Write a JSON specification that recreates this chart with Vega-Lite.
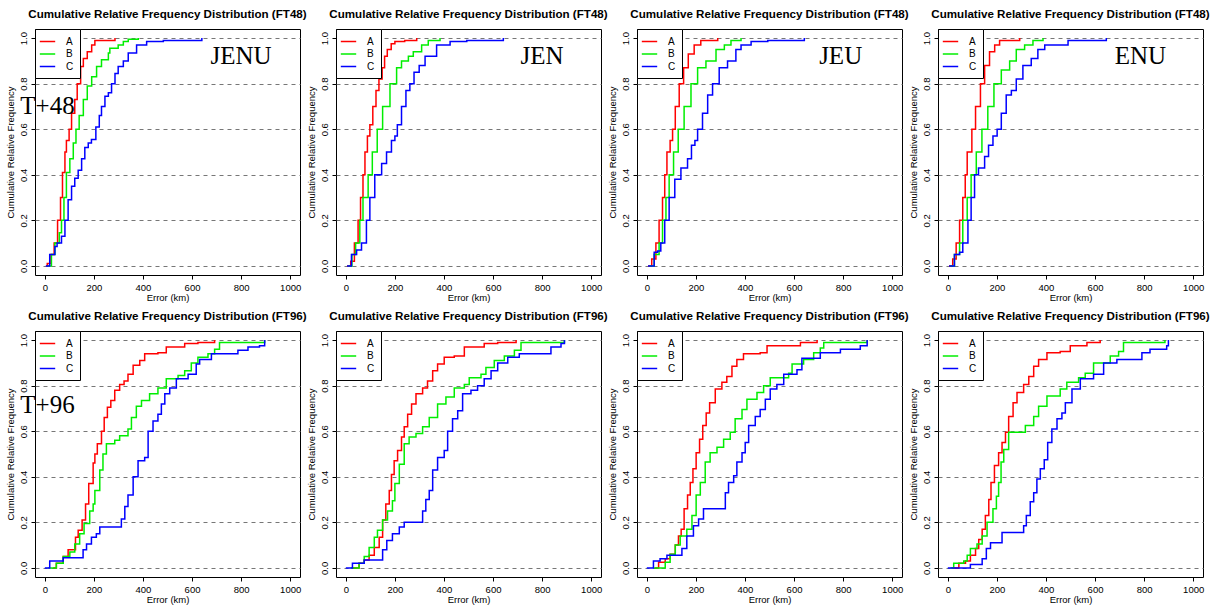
{
"$schema": "https://vega.github.io/schema/vega-lite/v6.json",
"padding": {"left": 4, "top": 8, "right": 0, "bottom": 0},
"background": "white",
"datasets": {
"labels": [
{"p":1,"t":"JENU","x":800,"y":0.92},{"p":2,"t":"JEN","x":800,"y":0.92},{"p":3,"t":"JEU","x":790,"y":0.92},{"p":4,"t":"ENU","x":785,"y":0.92},
{"p":1,"t":"T+48","x":11,"y":0.70},{"p":5,"t":"T+96","x":11,"y":0.716}
],
"curves": [
{"p":1,"s":"A","x":5,"y":0},{"p":1,"s":"A","x":10,"y":0.01},{"p":1,"s":"A","x":25,"y":0.05},{"p":1,"s":"A","x":38,"y":0.1},{"p":1,"s":"A","x":52,"y":0.2},{"p":1,"s":"A","x":64,"y":0.3},{"p":1,"s":"A","x":72,"y":0.41},{"p":1,"s":"A","x":82,"y":0.5},{"p":1,"s":"A","x":88,"y":0.55},{"p":1,"s":"A","x":99,"y":0.6},{"p":1,"s":"A","x":109,"y":0.67},{"p":1,"s":"A","x":122,"y":0.73},{"p":1,"s":"A","x":132,"y":0.8},{"p":1,"s":"A","x":146,"y":0.875},{"p":1,"s":"A","x":157,"y":0.91},{"p":1,"s":"A","x":173,"y":0.94},{"p":1,"s":"A","x":191,"y":0.97},{"p":1,"s":"A","x":204,"y":0.99},{"p":1,"s":"A","x":286,"y":1.0},
{"p":1,"s":"B","x":10,"y":0},{"p":1,"s":"B","x":27,"y":0.05},{"p":1,"s":"B","x":41,"y":0.1},{"p":1,"s":"B","x":59,"y":0.145},{"p":1,"s":"B","x":68,"y":0.2},{"p":1,"s":"B","x":78,"y":0.3},{"p":1,"s":"B","x":88,"y":0.41},{"p":1,"s":"B","x":102,"y":0.47},{"p":1,"s":"B","x":116,"y":0.54},{"p":1,"s":"B","x":127,"y":0.6},{"p":1,"s":"B","x":140,"y":0.66},{"p":1,"s":"B","x":157,"y":0.73},{"p":1,"s":"B","x":173,"y":0.79},{"p":1,"s":"B","x":191,"y":0.83},{"p":1,"s":"B","x":211,"y":0.875},{"p":1,"s":"B","x":231,"y":0.905},{"p":1,"s":"B","x":259,"y":0.935},{"p":1,"s":"B","x":265,"y":0.955},{"p":1,"s":"B","x":299,"y":0.97},{"p":1,"s":"B","x":320,"y":0.985},{"p":1,"s":"B","x":340,"y":0.995},{"p":1,"s":"B","x":381,"y":1.0},
{"p":1,"s":"C","x":4,"y":0},{"p":1,"s":"C","x":20,"y":0.05},{"p":1,"s":"C","x":41,"y":0.085},{"p":1,"s":"C","x":50,"y":0.1},{"p":1,"s":"C","x":68,"y":0.13},{"p":1,"s":"C","x":82,"y":0.2},{"p":1,"s":"C","x":95,"y":0.29},{"p":1,"s":"C","x":109,"y":0.35},{"p":1,"s":"C","x":122,"y":0.385},{"p":1,"s":"C","x":136,"y":0.42},{"p":1,"s":"C","x":150,"y":0.47},{"p":1,"s":"C","x":163,"y":0.52},{"p":1,"s":"C","x":177,"y":0.54},{"p":1,"s":"C","x":190,"y":0.555},{"p":1,"s":"C","x":208,"y":0.61},{"p":1,"s":"C","x":222,"y":0.66},{"p":1,"s":"C","x":231,"y":0.7},{"p":1,"s":"C","x":245,"y":0.745},{"p":1,"s":"C","x":259,"y":0.76},{"p":1,"s":"C","x":272,"y":0.8},{"p":1,"s":"C","x":286,"y":0.845},{"p":1,"s":"C","x":299,"y":0.875},{"p":1,"s":"C","x":320,"y":0.9},{"p":1,"s":"C","x":340,"y":0.935},{"p":1,"s":"C","x":374,"y":0.97},{"p":1,"s":"C","x":415,"y":0.985},{"p":1,"s":"C","x":483,"y":0.99},{"p":1,"s":"C","x":640,"y":1.0},

{"p":2,"s":"A","x":5,"y":0},{"p":2,"s":"A","x":20,"y":0.02},{"p":2,"s":"A","x":35,"y":0.1},{"p":2,"s":"A","x":50,"y":0.2},{"p":2,"s":"A","x":60,"y":0.3},{"p":2,"s":"A","x":70,"y":0.4},{"p":2,"s":"A","x":78,"y":0.5},{"p":2,"s":"A","x":88,"y":0.57},{"p":2,"s":"A","x":98,"y":0.62},{"p":2,"s":"A","x":110,"y":0.7},{"p":2,"s":"A","x":123,"y":0.77},{"p":2,"s":"A","x":135,"y":0.82},{"p":2,"s":"A","x":148,"y":0.87},{"p":2,"s":"A","x":158,"y":0.92},{"p":2,"s":"A","x":169,"y":0.95},{"p":2,"s":"A","x":185,"y":0.975},{"p":2,"s":"A","x":200,"y":0.985},{"p":2,"s":"A","x":240,"y":0.99},{"p":2,"s":"A","x":289,"y":1.0},
{"p":2,"s":"B","x":10,"y":0},{"p":2,"s":"B","x":25,"y":0.05},{"p":2,"s":"B","x":40,"y":0.1},{"p":2,"s":"B","x":57,"y":0.2},{"p":2,"s":"B","x":70,"y":0.3},{"p":2,"s":"B","x":91,"y":0.4},{"p":2,"s":"B","x":108,"y":0.5},{"p":2,"s":"B","x":128,"y":0.6},{"p":2,"s":"B","x":150,"y":0.7},{"p":2,"s":"B","x":180,"y":0.8},{"p":2,"s":"B","x":207,"y":0.87},{"p":2,"s":"B","x":227,"y":0.9},{"p":2,"s":"B","x":255,"y":0.92},{"p":2,"s":"B","x":275,"y":0.94},{"p":2,"s":"B","x":309,"y":0.97},{"p":2,"s":"B","x":336,"y":0.99},{"p":2,"s":"B","x":384,"y":1.0},
{"p":2,"s":"C","x":5,"y":0},{"p":2,"s":"C","x":23,"y":0.05},{"p":2,"s":"C","x":44,"y":0.07},{"p":2,"s":"C","x":64,"y":0.1},{"p":2,"s":"C","x":84,"y":0.2},{"p":2,"s":"C","x":98,"y":0.3},{"p":2,"s":"C","x":118,"y":0.4},{"p":2,"s":"C","x":146,"y":0.45},{"p":2,"s":"C","x":166,"y":0.5},{"p":2,"s":"C","x":186,"y":0.55},{"p":2,"s":"C","x":200,"y":0.57},{"p":2,"s":"C","x":210,"y":0.62},{"p":2,"s":"C","x":227,"y":0.7},{"p":2,"s":"C","x":245,"y":0.77},{"p":2,"s":"C","x":261,"y":0.8},{"p":2,"s":"C","x":278,"y":0.85},{"p":2,"s":"C","x":299,"y":0.88},{"p":2,"s":"C","x":323,"y":0.92},{"p":2,"s":"C","x":370,"y":0.97},{"p":2,"s":"C","x":425,"y":0.985},{"p":2,"s":"C","x":493,"y":0.99},{"p":2,"s":"C","x":642,"y":1.0},

{"p":3,"s":"A","x":5,"y":0},{"p":3,"s":"A","x":20,"y":0.03},{"p":3,"s":"A","x":37,"y":0.1},{"p":3,"s":"A","x":50,"y":0.2},{"p":3,"s":"A","x":64,"y":0.3},{"p":3,"s":"A","x":73,"y":0.4},{"p":3,"s":"A","x":82,"y":0.5},{"p":3,"s":"A","x":95,"y":0.55},{"p":3,"s":"A","x":105,"y":0.6},{"p":3,"s":"A","x":116,"y":0.7},{"p":3,"s":"A","x":132,"y":0.8},{"p":3,"s":"A","x":150,"y":0.87},{"p":3,"s":"A","x":169,"y":0.93},{"p":3,"s":"A","x":193,"y":0.97},{"p":3,"s":"A","x":220,"y":0.99},{"p":3,"s":"A","x":289,"y":1.0},
{"p":3,"s":"B","x":10,"y":0},{"p":3,"s":"B","x":30,"y":0.05},{"p":3,"s":"B","x":50,"y":0.1},{"p":3,"s":"B","x":64,"y":0.2},{"p":3,"s":"B","x":78,"y":0.3},{"p":3,"s":"B","x":91,"y":0.4},{"p":3,"s":"B","x":109,"y":0.5},{"p":3,"s":"B","x":128,"y":0.6},{"p":3,"s":"B","x":152,"y":0.7},{"p":3,"s":"B","x":180,"y":0.8},{"p":3,"s":"B","x":207,"y":0.87},{"p":3,"s":"B","x":241,"y":0.9},{"p":3,"s":"B","x":282,"y":0.95},{"p":3,"s":"B","x":316,"y":0.97},{"p":3,"s":"B","x":343,"y":0.99},{"p":3,"s":"B","x":384,"y":1.0},
{"p":3,"s":"C","x":5,"y":0},{"p":3,"s":"C","x":30,"y":0.06},{"p":3,"s":"C","x":44,"y":0.065},{"p":3,"s":"C","x":57,"y":0.1},{"p":3,"s":"C","x":73,"y":0.2},{"p":3,"s":"C","x":91,"y":0.3},{"p":3,"s":"C","x":114,"y":0.38},{"p":3,"s":"C","x":139,"y":0.43},{"p":3,"s":"C","x":166,"y":0.47},{"p":3,"s":"C","x":182,"y":0.53},{"p":3,"s":"C","x":196,"y":0.55},{"p":3,"s":"C","x":207,"y":0.6},{"p":3,"s":"C","x":227,"y":0.67},{"p":3,"s":"C","x":248,"y":0.75},{"p":3,"s":"C","x":268,"y":0.8},{"p":3,"s":"C","x":295,"y":0.87},{"p":3,"s":"C","x":329,"y":0.9},{"p":3,"s":"C","x":363,"y":0.95},{"p":3,"s":"C","x":384,"y":0.97},{"p":3,"s":"C","x":425,"y":0.985},{"p":3,"s":"C","x":493,"y":0.99},{"p":3,"s":"C","x":642,"y":1.0},

{"p":4,"s":"A","x":5,"y":0},{"p":4,"s":"A","x":20,"y":0.03},{"p":4,"s":"A","x":34,"y":0.1},{"p":4,"s":"A","x":48,"y":0.2},{"p":4,"s":"A","x":61,"y":0.3},{"p":4,"s":"A","x":71,"y":0.4},{"p":4,"s":"A","x":79,"y":0.5},{"p":4,"s":"A","x":98,"y":0.6},{"p":4,"s":"A","x":113,"y":0.7},{"p":4,"s":"A","x":133,"y":0.8},{"p":4,"s":"A","x":150,"y":0.88},{"p":4,"s":"A","x":170,"y":0.94},{"p":4,"s":"A","x":191,"y":0.97},{"p":4,"s":"A","x":211,"y":0.99},{"p":4,"s":"A","x":293,"y":1.0},
{"p":4,"s":"B","x":10,"y":0},{"p":4,"s":"B","x":27,"y":0.05},{"p":4,"s":"B","x":48,"y":0.1},{"p":4,"s":"B","x":61,"y":0.2},{"p":4,"s":"B","x":79,"y":0.3},{"p":4,"s":"B","x":95,"y":0.4},{"p":4,"s":"B","x":116,"y":0.5},{"p":4,"s":"B","x":139,"y":0.6},{"p":4,"s":"B","x":163,"y":0.7},{"p":4,"s":"B","x":188,"y":0.8},{"p":4,"s":"B","x":218,"y":0.86},{"p":4,"s":"B","x":252,"y":0.9},{"p":4,"s":"B","x":279,"y":0.95},{"p":4,"s":"B","x":313,"y":0.97},{"p":4,"s":"B","x":347,"y":0.99},{"p":4,"s":"B","x":388,"y":1.0},
{"p":4,"s":"C","x":5,"y":0},{"p":4,"s":"C","x":27,"y":0.05},{"p":4,"s":"C","x":48,"y":0.06},{"p":4,"s":"C","x":61,"y":0.1},{"p":4,"s":"C","x":82,"y":0.2},{"p":4,"s":"C","x":95,"y":0.3},{"p":4,"s":"C","x":109,"y":0.4},{"p":4,"s":"C","x":125,"y":0.43},{"p":4,"s":"C","x":150,"y":0.48},{"p":4,"s":"C","x":166,"y":0.53},{"p":4,"s":"C","x":184,"y":0.57},{"p":4,"s":"C","x":201,"y":0.6},{"p":4,"s":"C","x":218,"y":0.67},{"p":4,"s":"C","x":238,"y":0.75},{"p":4,"s":"C","x":259,"y":0.77},{"p":4,"s":"C","x":279,"y":0.82},{"p":4,"s":"C","x":306,"y":0.88},{"p":4,"s":"C","x":340,"y":0.91},{"p":4,"s":"C","x":367,"y":0.95},{"p":4,"s":"C","x":395,"y":0.97},{"p":4,"s":"C","x":490,"y":0.99},{"p":4,"s":"C","x":646,"y":1.0},

{"p":5,"s":"A","x":34,"y":0},{"p":5,"s":"A","x":47,"y":0.02},{"p":5,"s":"A","x":75,"y":0.05},{"p":5,"s":"A","x":95,"y":0.08},{"p":5,"s":"A","x":125,"y":0.135},{"p":5,"s":"A","x":136,"y":0.165},{"p":5,"s":"A","x":152,"y":0.21},{"p":5,"s":"A","x":166,"y":0.28},{"p":5,"s":"A","x":179,"y":0.37},{"p":5,"s":"A","x":197,"y":0.46},{"p":5,"s":"A","x":204,"y":0.5},{"p":5,"s":"A","x":214,"y":0.545},{"p":5,"s":"A","x":231,"y":0.6},{"p":5,"s":"A","x":242,"y":0.66},{"p":5,"s":"A","x":255,"y":0.705},{"p":5,"s":"A","x":269,"y":0.735},{"p":5,"s":"A","x":285,"y":0.78},{"p":5,"s":"A","x":305,"y":0.805},{"p":5,"s":"A","x":323,"y":0.82},{"p":5,"s":"A","x":339,"y":0.85},{"p":5,"s":"A","x":360,"y":0.89},{"p":5,"s":"A","x":387,"y":0.91},{"p":5,"s":"A","x":407,"y":0.94},{"p":5,"s":"A","x":461,"y":0.945},{"p":5,"s":"A","x":495,"y":0.97},{"p":5,"s":"A","x":570,"y":0.985},{"p":5,"s":"A","x":624,"y":0.99},{"p":5,"s":"A","x":692,"y":1.0},
{"p":5,"s":"B","x":14,"y":0},{"p":5,"s":"B","x":47,"y":0.02},{"p":5,"s":"B","x":75,"y":0.05},{"p":5,"s":"B","x":102,"y":0.07},{"p":5,"s":"B","x":122,"y":0.105},{"p":5,"s":"B","x":142,"y":0.15},{"p":5,"s":"B","x":160,"y":0.195},{"p":5,"s":"B","x":183,"y":0.25},{"p":5,"s":"B","x":197,"y":0.28},{"p":5,"s":"B","x":204,"y":0.34},{"p":5,"s":"B","x":224,"y":0.43},{"p":5,"s":"B","x":237,"y":0.5},{"p":5,"s":"B","x":251,"y":0.545},{"p":5,"s":"B","x":285,"y":0.56},{"p":5,"s":"B","x":305,"y":0.58},{"p":5,"s":"B","x":339,"y":0.61},{"p":5,"s":"B","x":353,"y":0.66},{"p":5,"s":"B","x":373,"y":0.71},{"p":5,"s":"B","x":394,"y":0.735},{"p":5,"s":"B","x":427,"y":0.765},{"p":5,"s":"B","x":461,"y":0.79},{"p":5,"s":"B","x":495,"y":0.83},{"p":5,"s":"B","x":543,"y":0.845},{"p":5,"s":"B","x":570,"y":0.865},{"p":5,"s":"B","x":597,"y":0.9},{"p":5,"s":"B","x":624,"y":0.925},{"p":5,"s":"B","x":665,"y":0.94},{"p":5,"s":"B","x":692,"y":0.96},{"p":5,"s":"B","x":712,"y":0.99},{"p":5,"s":"B","x":896,"y":1.0},
{"p":5,"s":"C","x":0,"y":0},{"p":5,"s":"C","x":20,"y":0.03},{"p":5,"s":"C","x":75,"y":0.045},{"p":5,"s":"C","x":156,"y":0.08},{"p":5,"s":"C","x":170,"y":0.105},{"p":5,"s":"C","x":190,"y":0.135},{"p":5,"s":"C","x":210,"y":0.15},{"p":5,"s":"C","x":224,"y":0.18},{"p":5,"s":"C","x":312,"y":0.215},{"p":5,"s":"C","x":326,"y":0.27},{"p":5,"s":"C","x":339,"y":0.32},{"p":5,"s":"C","x":360,"y":0.4},{"p":5,"s":"C","x":380,"y":0.47},{"p":5,"s":"C","x":407,"y":0.485},{"p":5,"s":"C","x":421,"y":0.6},{"p":5,"s":"C","x":441,"y":0.645},{"p":5,"s":"C","x":461,"y":0.675},{"p":5,"s":"C","x":475,"y":0.72},{"p":5,"s":"C","x":489,"y":0.765},{"p":5,"s":"C","x":509,"y":0.79},{"p":5,"s":"C","x":536,"y":0.83},{"p":5,"s":"C","x":584,"y":0.85},{"p":5,"s":"C","x":617,"y":0.895},{"p":5,"s":"C","x":631,"y":0.915},{"p":5,"s":"C","x":679,"y":0.94},{"p":5,"s":"C","x":787,"y":0.955},{"p":5,"s":"C","x":828,"y":0.97},{"p":5,"s":"C","x":875,"y":0.975},{"p":5,"s":"C","x":896,"y":1.0},

{"p":6,"s":"A","x":27,"y":0},{"p":6,"s":"A","x":54,"y":0.02},{"p":6,"s":"A","x":75,"y":0.035},{"p":6,"s":"A","x":95,"y":0.055},{"p":6,"s":"A","x":116,"y":0.09},{"p":6,"s":"A","x":136,"y":0.135},{"p":6,"s":"A","x":150,"y":0.21},{"p":6,"s":"A","x":163,"y":0.28},{"p":6,"s":"A","x":177,"y":0.34},{"p":6,"s":"A","x":186,"y":0.41},{"p":6,"s":"A","x":197,"y":0.47},{"p":6,"s":"A","x":211,"y":0.515},{"p":6,"s":"A","x":227,"y":0.575},{"p":6,"s":"A","x":238,"y":0.62},{"p":6,"s":"A","x":252,"y":0.675},{"p":6,"s":"A","x":268,"y":0.72},{"p":6,"s":"A","x":286,"y":0.765},{"p":6,"s":"A","x":313,"y":0.79},{"p":6,"s":"A","x":333,"y":0.82},{"p":6,"s":"A","x":354,"y":0.865},{"p":6,"s":"A","x":374,"y":0.895},{"p":6,"s":"A","x":401,"y":0.925},{"p":6,"s":"A","x":442,"y":0.93},{"p":6,"s":"A","x":483,"y":0.97},{"p":6,"s":"A","x":564,"y":0.985},{"p":6,"s":"A","x":619,"y":0.99},{"p":6,"s":"A","x":694,"y":1.0},
{"p":6,"s":"B","x":20,"y":0},{"p":6,"s":"B","x":54,"y":0.02},{"p":6,"s":"B","x":75,"y":0.05},{"p":6,"s":"B","x":95,"y":0.09},{"p":6,"s":"B","x":116,"y":0.135},{"p":6,"s":"B","x":129,"y":0.165},{"p":6,"s":"B","x":150,"y":0.21},{"p":6,"s":"B","x":170,"y":0.25},{"p":6,"s":"B","x":190,"y":0.295},{"p":6,"s":"B","x":200,"y":0.37},{"p":6,"s":"B","x":218,"y":0.455},{"p":6,"s":"B","x":238,"y":0.545},{"p":6,"s":"B","x":258,"y":0.575},{"p":6,"s":"B","x":286,"y":0.59},{"p":6,"s":"B","x":313,"y":0.62},{"p":6,"s":"B","x":340,"y":0.66},{"p":6,"s":"B","x":374,"y":0.72},{"p":6,"s":"B","x":408,"y":0.75},{"p":6,"s":"B","x":442,"y":0.79},{"p":6,"s":"B","x":483,"y":0.805},{"p":6,"s":"B","x":503,"y":0.835},{"p":6,"s":"B","x":551,"y":0.85},{"p":6,"s":"B","x":571,"y":0.88},{"p":6,"s":"B","x":605,"y":0.91},{"p":6,"s":"B","x":646,"y":0.93},{"p":6,"s":"B","x":687,"y":0.955},{"p":6,"s":"B","x":714,"y":0.99},{"p":6,"s":"B","x":891,"y":1.0},
{"p":6,"s":"C","x":0,"y":0},{"p":6,"s":"C","x":27,"y":0.02},{"p":6,"s":"C","x":75,"y":0.035},{"p":6,"s":"C","x":150,"y":0.08},{"p":6,"s":"C","x":167,"y":0.12},{"p":6,"s":"C","x":190,"y":0.15},{"p":6,"s":"C","x":218,"y":0.18},{"p":6,"s":"C","x":238,"y":0.2},{"p":6,"s":"C","x":313,"y":0.25},{"p":6,"s":"C","x":326,"y":0.3},{"p":6,"s":"C","x":340,"y":0.34},{"p":6,"s":"C","x":354,"y":0.43},{"p":6,"s":"C","x":374,"y":0.485},{"p":6,"s":"C","x":401,"y":0.515},{"p":6,"s":"C","x":415,"y":0.6},{"p":6,"s":"C","x":435,"y":0.655},{"p":6,"s":"C","x":456,"y":0.69},{"p":6,"s":"C","x":476,"y":0.765},{"p":6,"s":"C","x":510,"y":0.78},{"p":6,"s":"C","x":537,"y":0.8},{"p":6,"s":"C","x":564,"y":0.83},{"p":6,"s":"C","x":592,"y":0.865},{"p":6,"s":"C","x":619,"y":0.9},{"p":6,"s":"C","x":660,"y":0.925},{"p":6,"s":"C","x":707,"y":0.94},{"p":6,"s":"C","x":836,"y":0.97},{"p":6,"s":"C","x":877,"y":0.985},{"p":6,"s":"C","x":891,"y":1.0},

{"p":7,"s":"A","x":34,"y":0},{"p":7,"s":"A","x":48,"y":0.025},{"p":7,"s":"A","x":75,"y":0.04},{"p":7,"s":"A","x":95,"y":0.06},{"p":7,"s":"A","x":116,"y":0.1},{"p":7,"s":"A","x":129,"y":0.14},{"p":7,"s":"A","x":140,"y":0.17},{"p":7,"s":"A","x":152,"y":0.26},{"p":7,"s":"A","x":166,"y":0.32},{"p":7,"s":"A","x":177,"y":0.375},{"p":7,"s":"A","x":188,"y":0.435},{"p":7,"s":"A","x":201,"y":0.505},{"p":7,"s":"A","x":215,"y":0.565},{"p":7,"s":"A","x":228,"y":0.625},{"p":7,"s":"A","x":242,"y":0.68},{"p":7,"s":"A","x":256,"y":0.725},{"p":7,"s":"A","x":279,"y":0.785},{"p":7,"s":"A","x":306,"y":0.815},{"p":7,"s":"A","x":326,"y":0.84},{"p":7,"s":"A","x":347,"y":0.885},{"p":7,"s":"A","x":367,"y":0.915},{"p":7,"s":"A","x":394,"y":0.94},{"p":7,"s":"A","x":462,"y":0.945},{"p":7,"s":"A","x":490,"y":0.975},{"p":7,"s":"A","x":626,"y":0.99},{"p":7,"s":"A","x":694,"y":1.0},
{"p":7,"s":"B","x":27,"y":0},{"p":7,"s":"B","x":75,"y":0.025},{"p":7,"s":"B","x":95,"y":0.06},{"p":7,"s":"B","x":116,"y":0.1},{"p":7,"s":"B","x":136,"y":0.14},{"p":7,"s":"B","x":163,"y":0.17},{"p":7,"s":"B","x":184,"y":0.23},{"p":7,"s":"B","x":201,"y":0.32},{"p":7,"s":"B","x":218,"y":0.375},{"p":7,"s":"B","x":238,"y":0.465},{"p":7,"s":"B","x":258,"y":0.505},{"p":7,"s":"B","x":286,"y":0.53},{"p":7,"s":"B","x":313,"y":0.565},{"p":7,"s":"B","x":340,"y":0.595},{"p":7,"s":"B","x":360,"y":0.655},{"p":7,"s":"B","x":388,"y":0.695},{"p":7,"s":"B","x":408,"y":0.74},{"p":7,"s":"B","x":449,"y":0.77},{"p":7,"s":"B","x":476,"y":0.8},{"p":7,"s":"B","x":503,"y":0.835},{"p":7,"s":"B","x":578,"y":0.855},{"p":7,"s":"B","x":592,"y":0.895},{"p":7,"s":"B","x":639,"y":0.915},{"p":7,"s":"B","x":680,"y":0.945},{"p":7,"s":"B","x":707,"y":0.965},{"p":7,"s":"B","x":721,"y":0.99},{"p":7,"s":"B","x":898,"y":1.0},
{"p":7,"s":"C","x":0,"y":0},{"p":7,"s":"C","x":27,"y":0.03},{"p":7,"s":"C","x":54,"y":0.04},{"p":7,"s":"C","x":82,"y":0.055},{"p":7,"s":"C","x":143,"y":0.085},{"p":7,"s":"C","x":163,"y":0.14},{"p":7,"s":"C","x":190,"y":0.185},{"p":7,"s":"C","x":211,"y":0.215},{"p":7,"s":"C","x":231,"y":0.26},{"p":7,"s":"C","x":320,"y":0.33},{"p":7,"s":"C","x":333,"y":0.375},{"p":7,"s":"C","x":354,"y":0.405},{"p":7,"s":"C","x":367,"y":0.465},{"p":7,"s":"C","x":388,"y":0.505},{"p":7,"s":"C","x":401,"y":0.55},{"p":7,"s":"C","x":415,"y":0.625},{"p":7,"s":"C","x":442,"y":0.665},{"p":7,"s":"C","x":462,"y":0.695},{"p":7,"s":"C","x":483,"y":0.74},{"p":7,"s":"C","x":503,"y":0.785},{"p":7,"s":"C","x":530,"y":0.805},{"p":7,"s":"C","x":558,"y":0.85},{"p":7,"s":"C","x":612,"y":0.87},{"p":7,"s":"C","x":632,"y":0.92},{"p":7,"s":"C","x":707,"y":0.945},{"p":7,"s":"C","x":789,"y":0.96},{"p":7,"s":"C","x":870,"y":0.975},{"p":7,"s":"C","x":898,"y":1.0},

{"p":8,"s":"A","x":18,"y":0},{"p":8,"s":"A","x":45,"y":0.02},{"p":8,"s":"A","x":72,"y":0.03},{"p":8,"s":"A","x":92,"y":0.055},{"p":8,"s":"A","x":113,"y":0.085},{"p":8,"s":"A","x":126,"y":0.125},{"p":8,"s":"A","x":140,"y":0.17},{"p":8,"s":"A","x":153,"y":0.23},{"p":8,"s":"A","x":167,"y":0.3},{"p":8,"s":"A","x":176,"y":0.375},{"p":8,"s":"A","x":190,"y":0.45},{"p":8,"s":"A","x":207,"y":0.505},{"p":8,"s":"A","x":221,"y":0.55},{"p":8,"s":"A","x":235,"y":0.595},{"p":8,"s":"A","x":248,"y":0.665},{"p":8,"s":"A","x":266,"y":0.725},{"p":8,"s":"A","x":282,"y":0.77},{"p":8,"s":"A","x":309,"y":0.805},{"p":8,"s":"A","x":330,"y":0.84},{"p":8,"s":"A","x":350,"y":0.885},{"p":8,"s":"A","x":370,"y":0.915},{"p":8,"s":"A","x":404,"y":0.945},{"p":8,"s":"A","x":458,"y":0.95},{"p":8,"s":"A","x":499,"y":0.975},{"p":8,"s":"A","x":567,"y":0.99},{"p":8,"s":"A","x":621,"y":1.0},
{"p":8,"s":"B","x":11,"y":0},{"p":8,"s":"B","x":24,"y":0.02},{"p":8,"s":"B","x":65,"y":0.03},{"p":8,"s":"B","x":79,"y":0.055},{"p":8,"s":"B","x":92,"y":0.085},{"p":8,"s":"B","x":119,"y":0.105},{"p":8,"s":"B","x":140,"y":0.14},{"p":8,"s":"B","x":160,"y":0.2},{"p":8,"s":"B","x":184,"y":0.26},{"p":8,"s":"B","x":198,"y":0.315},{"p":8,"s":"B","x":207,"y":0.375},{"p":8,"s":"B","x":217,"y":0.465},{"p":8,"s":"B","x":228,"y":0.52},{"p":8,"s":"B","x":248,"y":0.595},{"p":8,"s":"B","x":316,"y":0.625},{"p":8,"s":"B","x":350,"y":0.665},{"p":8,"s":"B","x":370,"y":0.71},{"p":8,"s":"B","x":404,"y":0.755},{"p":8,"s":"B","x":458,"y":0.785},{"p":8,"s":"B","x":485,"y":0.815},{"p":8,"s":"B","x":533,"y":0.835},{"p":8,"s":"B","x":560,"y":0.855},{"p":8,"s":"B","x":594,"y":0.9},{"p":8,"s":"B","x":662,"y":0.93},{"p":8,"s":"B","x":696,"y":0.95},{"p":8,"s":"B","x":716,"y":0.99},{"p":8,"s":"B","x":885,"y":1.0},
{"p":8,"s":"C","x":0,"y":0},{"p":8,"s":"C","x":92,"y":0.015},{"p":8,"s":"C","x":140,"y":0.04},{"p":8,"s":"C","x":157,"y":0.085},{"p":8,"s":"C","x":174,"y":0.11},{"p":8,"s":"C","x":221,"y":0.155},{"p":8,"s":"C","x":309,"y":0.185},{"p":8,"s":"C","x":320,"y":0.23},{"p":8,"s":"C","x":336,"y":0.29},{"p":8,"s":"C","x":350,"y":0.33},{"p":8,"s":"C","x":363,"y":0.39},{"p":8,"s":"C","x":377,"y":0.435},{"p":8,"s":"C","x":393,"y":0.475},{"p":8,"s":"C","x":407,"y":0.55},{"p":8,"s":"C","x":424,"y":0.61},{"p":8,"s":"C","x":445,"y":0.655},{"p":8,"s":"C","x":465,"y":0.68},{"p":8,"s":"C","x":479,"y":0.725},{"p":8,"s":"C","x":506,"y":0.785},{"p":8,"s":"C","x":540,"y":0.83},{"p":8,"s":"C","x":594,"y":0.85},{"p":8,"s":"C","x":635,"y":0.9},{"p":8,"s":"C","x":689,"y":0.915},{"p":8,"s":"C","x":791,"y":0.945},{"p":8,"s":"C","x":824,"y":0.96},{"p":8,"s":"C","x":892,"y":0.975},{"p":8,"s":"C","x":899,"y":1.0}
]
},
"columns": 4,
"spacing": {"row": 56, "column": 36},
"bounds": "flush",
"resolve": {"legend": {"color": "independent"}},
"concat": [
{"title": "Cumulative Relative Frequency Distribution (FT48)", "width": 265, "height": 246, "layer": [
 {"data": {"name": "curves"}, "transform": [{"filter": "datum.p == 1"}], "mark": {"type": "line", "interpolate": "step-after", "strokeWidth": 1.5},
  "encoding": {"x": {"field": "x", "type": "quantitative", "scale": {"domain": [-40, 1040], "nice": false, "zero": false}, "axis": {"values": [0,200,400,600,800,1000], "format": "d", "title": "Error (km)"}},
   "y": {"field": "y", "type": "quantitative", "scale": {"domain": [-0.04, 1.04], "nice": false, "zero": false}, "axis": {"values": [0,0.2,0.4,0.6,0.8,1], "format": ".1f", "title": "Cumulative Relative Frequency"}},
   "color": {"field": "s", "type": "nominal", "scale": {"domain": ["A","B","C"], "range": ["#FF0000","#00EE00","#0000FF"]}, "title": null}}},
 {"data": {"name": "labels"}, "transform": [{"filter": "datum.p == 1"}], "mark": {"type": "text", "font": "Liberation Serif", "fontSize": 25, "align": "center", "baseline": "middle", "color": "black"},
  "encoding": {"x": {"field": "x", "type": "quantitative"}, "y": {"field": "y", "type": "quantitative"}, "text": {"field": "t"}}}
]},
{"title": "Cumulative Relative Frequency Distribution (FT48)", "width": 265, "height": 246, "layer": [
 {"data": {"name": "curves"}, "transform": [{"filter": "datum.p == 2"}], "mark": {"type": "line", "interpolate": "step-after", "strokeWidth": 1.5},
  "encoding": {"x": {"field": "x", "type": "quantitative", "scale": {"domain": [-40, 1040], "nice": false, "zero": false}, "axis": {"values": [0,200,400,600,800,1000], "format": "d", "title": "Error (km)"}},
   "y": {"field": "y", "type": "quantitative", "scale": {"domain": [-0.04, 1.04], "nice": false, "zero": false}, "axis": {"values": [0,0.2,0.4,0.6,0.8,1], "format": ".1f", "title": "Cumulative Relative Frequency"}},
   "color": {"field": "s", "type": "nominal", "scale": {"domain": ["A","B","C"], "range": ["#FF0000","#00EE00","#0000FF"]}, "title": null}}},
 {"data": {"name": "labels"}, "transform": [{"filter": "datum.p == 2"}], "mark": {"type": "text", "font": "Liberation Serif", "fontSize": 25, "align": "center", "baseline": "middle", "color": "black"},
  "encoding": {"x": {"field": "x", "type": "quantitative"}, "y": {"field": "y", "type": "quantitative"}, "text": {"field": "t"}}}
]},
{"title": "Cumulative Relative Frequency Distribution (FT48)", "width": 265, "height": 246, "layer": [
 {"data": {"name": "curves"}, "transform": [{"filter": "datum.p == 3"}], "mark": {"type": "line", "interpolate": "step-after", "strokeWidth": 1.5},
  "encoding": {"x": {"field": "x", "type": "quantitative", "scale": {"domain": [-40, 1040], "nice": false, "zero": false}, "axis": {"values": [0,200,400,600,800,1000], "format": "d", "title": "Error (km)"}},
   "y": {"field": "y", "type": "quantitative", "scale": {"domain": [-0.04, 1.04], "nice": false, "zero": false}, "axis": {"values": [0,0.2,0.4,0.6,0.8,1], "format": ".1f", "title": "Cumulative Relative Frequency"}},
   "color": {"field": "s", "type": "nominal", "scale": {"domain": ["A","B","C"], "range": ["#FF0000","#00EE00","#0000FF"]}, "title": null}}},
 {"data": {"name": "labels"}, "transform": [{"filter": "datum.p == 3"}], "mark": {"type": "text", "font": "Liberation Serif", "fontSize": 25, "align": "center", "baseline": "middle", "color": "black"},
  "encoding": {"x": {"field": "x", "type": "quantitative"}, "y": {"field": "y", "type": "quantitative"}, "text": {"field": "t"}}}
]},
{"title": "Cumulative Relative Frequency Distribution (FT48)", "width": 265, "height": 246, "layer": [
 {"data": {"name": "curves"}, "transform": [{"filter": "datum.p == 4"}], "mark": {"type": "line", "interpolate": "step-after", "strokeWidth": 1.5},
  "encoding": {"x": {"field": "x", "type": "quantitative", "scale": {"domain": [-40, 1040], "nice": false, "zero": false}, "axis": {"values": [0,200,400,600,800,1000], "format": "d", "title": "Error (km)"}},
   "y": {"field": "y", "type": "quantitative", "scale": {"domain": [-0.04, 1.04], "nice": false, "zero": false}, "axis": {"values": [0,0.2,0.4,0.6,0.8,1], "format": ".1f", "title": "Cumulative Relative Frequency"}},
   "color": {"field": "s", "type": "nominal", "scale": {"domain": ["A","B","C"], "range": ["#FF0000","#00EE00","#0000FF"]}, "title": null}}},
 {"data": {"name": "labels"}, "transform": [{"filter": "datum.p == 4"}], "mark": {"type": "text", "font": "Liberation Serif", "fontSize": 25, "align": "center", "baseline": "middle", "color": "black"},
  "encoding": {"x": {"field": "x", "type": "quantitative"}, "y": {"field": "y", "type": "quantitative"}, "text": {"field": "t"}}}
]},
{"title": "Cumulative Relative Frequency Distribution (FT96)", "width": 265, "height": 246, "layer": [
 {"data": {"name": "curves"}, "transform": [{"filter": "datum.p == 5"}], "mark": {"type": "line", "interpolate": "step-after", "strokeWidth": 1.5},
  "encoding": {"x": {"field": "x", "type": "quantitative", "scale": {"domain": [-40, 1040], "nice": false, "zero": false}, "axis": {"values": [0,200,400,600,800,1000], "format": "d", "title": "Error (km)"}},
   "y": {"field": "y", "type": "quantitative", "scale": {"domain": [-0.04, 1.04], "nice": false, "zero": false}, "axis": {"values": [0,0.2,0.4,0.6,0.8,1], "format": ".1f", "title": "Cumulative Relative Frequency"}},
   "color": {"field": "s", "type": "nominal", "scale": {"domain": ["A","B","C"], "range": ["#FF0000","#00EE00","#0000FF"]}, "title": null}}},
 {"data": {"name": "labels"}, "transform": [{"filter": "datum.p == 5"}], "mark": {"type": "text", "font": "Liberation Serif", "fontSize": 25, "align": "center", "baseline": "middle", "color": "black"},
  "encoding": {"x": {"field": "x", "type": "quantitative"}, "y": {"field": "y", "type": "quantitative"}, "text": {"field": "t"}}}
]},
{"title": "Cumulative Relative Frequency Distribution (FT96)", "width": 265, "height": 246, "layer": [
 {"data": {"name": "curves"}, "transform": [{"filter": "datum.p == 6"}], "mark": {"type": "line", "interpolate": "step-after", "strokeWidth": 1.5},
  "encoding": {"x": {"field": "x", "type": "quantitative", "scale": {"domain": [-40, 1040], "nice": false, "zero": false}, "axis": {"values": [0,200,400,600,800,1000], "format": "d", "title": "Error (km)"}},
   "y": {"field": "y", "type": "quantitative", "scale": {"domain": [-0.04, 1.04], "nice": false, "zero": false}, "axis": {"values": [0,0.2,0.4,0.6,0.8,1], "format": ".1f", "title": "Cumulative Relative Frequency"}},
   "color": {"field": "s", "type": "nominal", "scale": {"domain": ["A","B","C"], "range": ["#FF0000","#00EE00","#0000FF"]}, "title": null}}}
]},
{"title": "Cumulative Relative Frequency Distribution (FT96)", "width": 265, "height": 246, "layer": [
 {"data": {"name": "curves"}, "transform": [{"filter": "datum.p == 7"}], "mark": {"type": "line", "interpolate": "step-after", "strokeWidth": 1.5},
  "encoding": {"x": {"field": "x", "type": "quantitative", "scale": {"domain": [-40, 1040], "nice": false, "zero": false}, "axis": {"values": [0,200,400,600,800,1000], "format": "d", "title": "Error (km)"}},
   "y": {"field": "y", "type": "quantitative", "scale": {"domain": [-0.04, 1.04], "nice": false, "zero": false}, "axis": {"values": [0,0.2,0.4,0.6,0.8,1], "format": ".1f", "title": "Cumulative Relative Frequency"}},
   "color": {"field": "s", "type": "nominal", "scale": {"domain": ["A","B","C"], "range": ["#FF0000","#00EE00","#0000FF"]}, "title": null}}}
]},
{"title": "Cumulative Relative Frequency Distribution (FT96)", "width": 265, "height": 246, "layer": [
 {"data": {"name": "curves"}, "transform": [{"filter": "datum.p == 8"}], "mark": {"type": "line", "interpolate": "step-after", "strokeWidth": 1.5},
  "encoding": {"x": {"field": "x", "type": "quantitative", "scale": {"domain": [-40, 1040], "nice": false, "zero": false}, "axis": {"values": [0,200,400,600,800,1000], "format": "d", "title": "Error (km)"}},
   "y": {"field": "y", "type": "quantitative", "scale": {"domain": [-0.04, 1.04], "nice": false, "zero": false}, "axis": {"values": [0,0.2,0.4,0.6,0.8,1], "format": ".1f", "title": "Cumulative Relative Frequency"}},
   "color": {"field": "s", "type": "nominal", "scale": {"domain": ["A","B","C"], "range": ["#FF0000","#00EE00","#0000FF"]}, "title": null}}}
]}
],
"config": {
 "font": "Liberation Sans",
 "view": {"stroke": "black", "strokeWidth": 1},
 "axis": {"domain": false, "tickColor": "black", "tickSize": 4, "labelFontSize": 9.5, "titleFontSize": 9.5, "titleFontWeight": "normal", "labelColor": "black", "titleColor": "black", "grid": false, "labelFont": "Liberation Sans", "titleFont": "Liberation Sans"},
 "axisY": {"grid": true, "gridDash": [4, 4], "gridColor": "#777777", "gridWidth": 1, "gridOpacity": 1, "labelAngle": -90, "labelAlign": "center", "labelBaseline": "bottom", "labelPadding": 3, "titlePadding": 3},
 "axisX": {"labelPadding": 3, "titlePadding": 1},
 "title": {"fontSize": 11.6, "fontWeight": "bold", "font": "Liberation Sans", "frame": "group", "anchor": "middle", "offset": 8, "color": "black"},
 "legend": {"orient": "top-left", "offset": 0, "padding": 6, "strokeColor": "black", "fillColor": "white", "symbolType": "M-1.4,0H1.4", "symbolStrokeWidth": 1.5, "symbolSize": 121, "labelFontSize": 10, "labelFont": "Liberation Sans", "rowPadding": 0.5, "labelOffset": 12, "cornerRadius": 0, "symbolFillColor": "transparent"}
}
}
